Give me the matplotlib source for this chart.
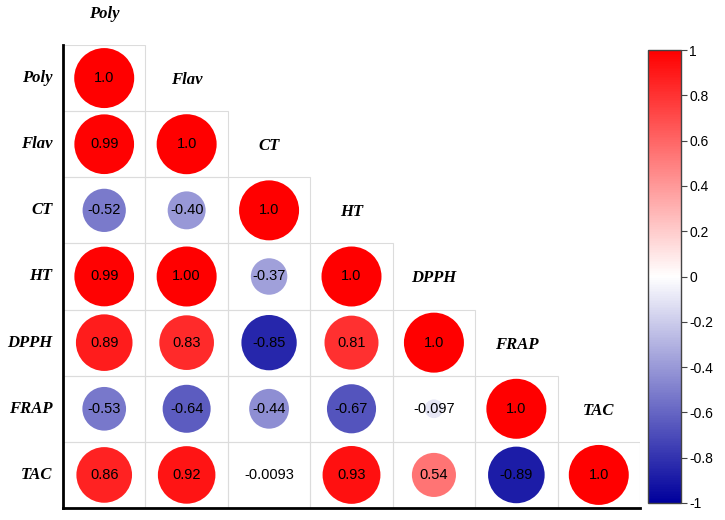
import numpy as np
import matplotlib
matplotlib.use("Agg")
import matplotlib.pyplot as plt
from matplotlib.colors import LinearSegmentedColormap, Normalize
from matplotlib.patches import Rectangle
from matplotlib.cm import ScalarMappable

variables = ["Poly", "Flav", "CT", "HT", "DPPH", "FRAP", "TAC"]
row_poly = [1.0]
row_flav = [0.99, 1.0]
row_ct = [-0.52, -0.40, 1.0]
row_ht = [0.99, 1.00, -0.37, 1.0]
row_dpph = [0.89, 0.83, -0.85, 0.81, 1.0]
row_frap = [-0.53, -0.64, -0.44, -0.67, -0.097, 1.0]
row_tac = [0.86, 0.92, -0.0093, 0.93, 0.54, -0.89, 1.0]
rows = [row_poly, row_flav, row_ct, row_ht, row_dpph, row_frap, row_tac]
# labels as printed in the cells
text_rows = [
    ["1.0"],
    ["0.99", "1.0"],
    ["-0.52", "-0.40", "1.0"],
    ["0.99", "1.00", "-0.37", "1.0"],
    ["0.89", "0.83", "-0.85", "0.81", "1.0"],
    ["-0.53", "-0.64", "-0.44", "-0.67", "-0.097", "1.0"],
    ["0.86", "0.92", "-0.0093", "0.93", "0.54", "-0.89", "1.0"],
]
cbar_ticks = [1, 0.8, 0.6, 0.4, 0.2, 0, -0.2, -0.4, -0.6, -0.8, -1]

cmap = LinearSegmentedColormap.from_list("corr", ["#00009c", "#ffffff", "#ff0000"])
norm = Normalize(-1, 1)
n = len(variables)

fig = plt.figure(figsize=(7.25, 5.2), dpi=100)
ax = fig.add_axes([63 / 725, 12 / 520, 577 / 725, 463 / 520])
ax.set_xlim(0, n)
ax.set_ylim(n, 0)

label_font = dict(family="Liberation Serif", style="italic", weight="bold", fontsize=12)
num_font = dict(family="Liberation Sans", fontsize=10.5)

for i, (vals, txts) in enumerate(zip(rows, text_rows)):
    for j, (v, t) in enumerate(zip(vals, txts)):
        ax.add_patch(Rectangle((j, i), 1, 1, fill=False, edgecolor="#dcdcdc", lw=0.8, zorder=1))
        ax.scatter(j + 0.5, i + 0.5, s=1866 * abs(v), color=cmap(norm(v)), edgecolors="none", zorder=2)
        ax.text(j + 0.5, i + 0.5, t, ha="center", va="center", zorder=3, **num_font)
    ax.text(-0.13, i + 0.5, variables[i], ha="right", va="center", **label_font)
    # column label sits just right of the diagonal cell
    ax.text(i + 0.5, i - 0.47, variables[i], ha="center", va="center", **label_font)

ax.set_xticks([])
ax.set_yticks([])
for side in ["top", "right"]:
    ax.spines[side].set_visible(False)
for side in ["left", "bottom"]:
    ax.spines[side].set_linewidth(2)
    ax.spines[side].set_color("black")

cax = fig.add_axes([648 / 725, 17 / 520, 33 / 725, 453 / 520])
sm = ScalarMappable(norm=norm, cmap=cmap)
cb = fig.colorbar(sm, cax=cax, ticks=cbar_ticks)
cb.ax.set_yticklabels([f"{t:g}" for t in cbar_ticks], family="Liberation Sans", fontsize=10)
cb.outline.set_edgecolor("#444444")
cb.outline.set_linewidth(1)
cb.ax.tick_params(length=4, width=0.8, color="#444444", pad=2)

fig.savefig("out.png", dpi=100, facecolor="white")
